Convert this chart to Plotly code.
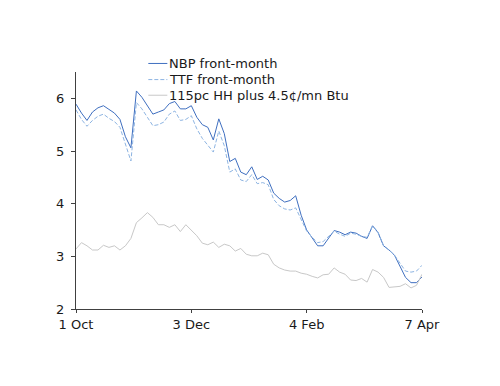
import pandas as pd
import plotly.graph_objects as go

dates = pd.date_range("2015-10-01", periods=64, freq="3D")

nbp = [5.89, 5.72, 5.58, 5.74, 5.82, 5.86, 5.79, 5.72, 5.60, 5.27,
       5.06, 6.14, 6.02, 5.86, 5.70, 5.74, 5.78, 5.90, 5.94, 5.80,
       5.80, 5.86, 5.64, 5.50, 5.45, 5.21, 5.61, 5.33, 4.80, 4.86,
       4.60, 4.55, 4.70, 4.46, 4.52, 4.45, 4.20, 4.10, 4.03, 4.06,
       4.15, 3.78, 3.50, 3.35, 3.20, 3.20, 3.34, 3.49, 3.46, 3.41,
       3.46, 3.44, 3.38, 3.34, 3.58, 3.45, 3.20, 3.12, 3.02, 2.82,
       2.60, 2.50, 2.50, 2.61]

ttf = [5.78, 5.60, 5.47, 5.58, 5.66, 5.70, 5.62, 5.56, 5.45, 5.12,
       4.81, 5.92, 5.80, 5.64, 5.48, 5.50, 5.55, 5.70, 5.76, 5.58,
       5.60, 5.67, 5.42, 5.24, 5.10, 4.98, 5.38, 5.10, 4.60, 4.66,
       4.45, 4.42, 4.55, 4.38, 4.40, 4.36, 4.08, 3.96, 3.90, 3.88,
       3.92, 3.70, 3.48, 3.36, 3.26, 3.28, 3.38, 3.48, 3.42, 3.38,
       3.44, 3.42, 3.38, 3.36, 3.58, 3.46, 3.20, 3.12, 3.02, 2.86,
       2.72, 2.70, 2.72, 2.83]

hh = [3.14, 3.26, 3.20, 3.12, 3.12, 3.21, 3.17, 3.20, 3.12, 3.20,
      3.34, 3.64, 3.73, 3.83, 3.74, 3.60, 3.60, 3.55, 3.60, 3.47,
      3.60, 3.50, 3.39, 3.25, 3.22, 3.27, 3.17, 3.23, 3.20, 3.10,
      3.15, 3.04, 3.01, 3.01, 3.06, 3.03, 2.85, 2.78, 2.74, 2.72,
      2.72, 2.68, 2.66, 2.62, 2.59, 2.65, 2.66, 2.78, 2.70, 2.66,
      2.55, 2.54, 2.58, 2.51, 2.75, 2.70, 2.60, 2.41, 2.42, 2.43,
      2.48, 2.40, 2.45, 2.66]

series_names = ["NBP front-month", "TTF front-month", "115pc HH plus 4.5¢/mn Btu"]
series_colors = ["#3F6FC0", "#8DB4E2", "#C8C8C8"]
series_dash = ["solid", "4px,2px", "solid"]

tick_dates = ["2015-10-01", "2015-12-03", "2016-02-04", "2016-04-07"]
tick_labels = ["1 Oct", "3 Dec", "4 Feb", "7 Apr"]
y_ticks = [2, 3, 4, 5, 6]

fig = go.Figure()
for vals, name, col, dash in zip([nbp, ttf, hh], series_names, series_colors, series_dash):
    fig.add_trace(go.Scatter(x=dates, y=vals, mode="lines", name=name,
                             line=dict(color=col, width=1, dash=dash)))

# manual legend (tight row spacing like the reference)
leg_rows = [1.036, 0.968, 0.902]
for yy, name, col, dash in zip(leg_rows, series_names, series_colors, series_dash):
    fig.add_shape(type="line", xref="paper", yref="paper", x0=0.209, x1=0.264, y0=yy, y1=yy,
                  line=dict(color=col, width=1, dash=dash))
    fig.add_annotation(xref="paper", yref="paper", x=0.262, y=yy, text=name, showarrow=False,
                       xanchor="left", yanchor="middle", font=dict(size=13, color="#1a1a1a"))

fig.update_layout(
    width=492, height=378,
    margin=dict(l=68, r=78, t=64, b=77, autoexpand=False),
    paper_bgcolor="white", plot_bgcolor="white",
    font=dict(family="DejaVu Sans", size=13, color="#1a1a1a"),
    showlegend=False,
    xaxis=dict(range=["2015-10-01", "2016-04-07"], tickvals=tick_dates, ticktext=tick_labels,
               showgrid=False, zeroline=False, showline=True, linecolor="#404040", linewidth=1,
               ticks="outside", ticklen=3, tickcolor="#404040", tickfont=dict(size=13)),
    yaxis=dict(range=[2, 6.5], tickvals=y_ticks, showgrid=False, zeroline=False,
               showline=True, linecolor="#404040", linewidth=1,
               ticks="outside", ticklen=4, tickcolor="#404040", tickfont=dict(size=13),
               ticklabelstandoff=4),
)

fig.write_html("out.html")
